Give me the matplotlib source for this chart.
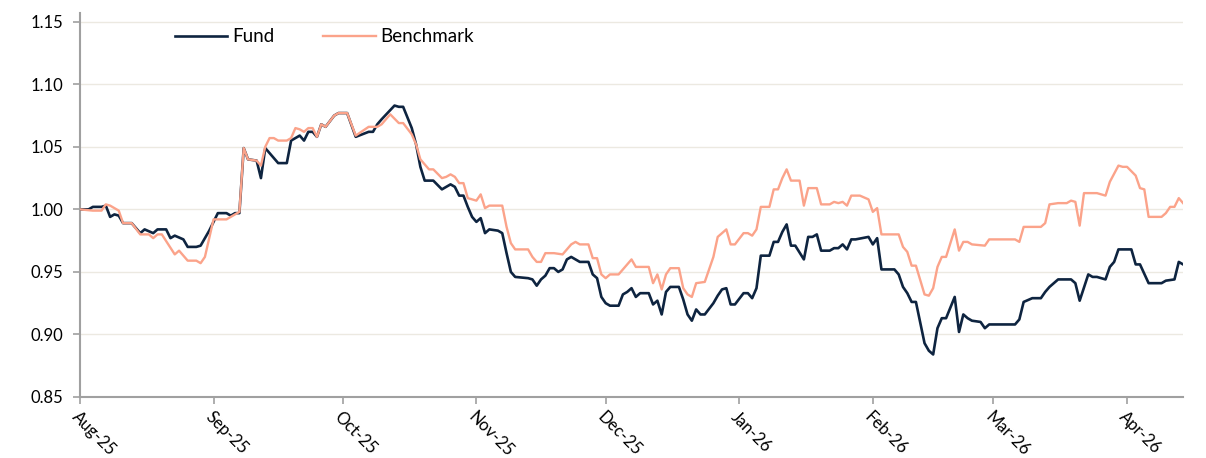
import pandas as pd
import matplotlib.pyplot as plt
import matplotlib.dates as mdates

plt.rcParams['font.family'] = ['Lato', 'DejaVu Sans']

fund_dates = [
    '2025-08-01', '2025-08-03', '2025-08-04', '2025-08-06', '2025-08-07', '2025-08-08', '2025-08-09',
    '2025-08-10', '2025-08-11', '2025-08-13', '2025-08-15', '2025-08-16', '2025-08-18', '2025-08-19',
    '2025-08-21', '2025-08-22', '2025-08-23', '2025-08-25', '2025-08-26', '2025-08-28', '2025-08-29',
    '2025-08-31', '2025-09-02', '2025-09-04', '2025-09-05', '2025-09-06', '2025-09-07', '2025-09-08',
    '2025-09-09', '2025-09-11', '2025-09-12', '2025-09-13', '2025-09-16', '2025-09-18', '2025-09-19',
    '2025-09-21', '2025-09-22', '2025-09-23', '2025-09-24', '2025-09-25', '2025-09-26', '2025-09-27',
    '2025-09-29', '2025-09-30', '2025-10-02', '2025-10-04', '2025-10-07', '2025-10-08', '2025-10-09',
    '2025-10-10', '2025-10-13', '2025-10-14', '2025-10-15', '2025-10-17', '2025-10-18', '2025-10-19',
    '2025-10-20', '2025-10-22', '2025-10-24', '2025-10-25', '2025-10-26', '2025-10-27', '2025-10-28',
    '2025-10-29', '2025-10-30', '2025-10-31', '2025-11-01', '2025-11-02', '2025-11-03', '2025-11-04',
    '2025-11-06', '2025-11-07', '2025-11-08', '2025-11-09', '2025-11-10', '2025-11-13', '2025-11-14',
    '2025-11-15', '2025-11-16', '2025-11-17', '2025-11-18', '2025-11-19', '2025-11-20', '2025-11-21',
    '2025-11-22', '2025-11-23', '2025-11-25', '2025-11-27', '2025-11-28', '2025-11-29', '2025-11-30',
    '2025-12-01', '2025-12-02', '2025-12-04', '2025-12-05', '2025-12-06', '2025-12-07', '2025-12-08',
    '2025-12-09', '2025-12-11', '2025-12-12', '2025-12-13', '2025-12-14', '2025-12-15', '2025-12-16',
    '2025-12-18', '2025-12-19', '2025-12-20', '2025-12-21', '2025-12-22', '2025-12-23', '2025-12-24',
    '2025-12-26', '2025-12-27', '2025-12-28', '2025-12-29', '2025-12-30', '2025-12-31', '2026-01-02',
    '2026-01-03', '2026-01-04', '2026-01-05', '2026-01-06', '2026-01-08', '2026-01-09', '2026-01-10',
    '2026-01-11', '2026-01-12', '2026-01-13', '2026-01-14', '2026-01-16', '2026-01-17', '2026-01-18',
    '2026-01-19', '2026-01-20', '2026-01-22', '2026-01-23', '2026-01-24', '2026-01-25', '2026-01-26',
    '2026-01-27', '2026-01-28', '2026-01-31', '2026-02-01', '2026-02-02', '2026-02-03', '2026-02-06',
    '2026-02-07', '2026-02-08', '2026-02-09', '2026-02-10', '2026-02-11', '2026-02-13', '2026-02-14',
    '2026-02-15', '2026-02-16', '2026-02-17', '2026-02-18', '2026-02-20', '2026-02-21', '2026-02-22',
    '2026-02-23', '2026-02-24', '2026-02-26', '2026-02-27', '2026-02-28', '2026-03-06', '2026-03-07',
    '2026-03-08', '2026-03-10', '2026-03-12', '2026-03-13', '2026-03-14', '2026-03-16', '2026-03-19',
    '2026-03-20', '2026-03-21', '2026-03-23', '2026-03-24', '2026-03-25', '2026-03-27', '2026-03-28',
    '2026-03-29', '2026-03-30', '2026-03-31', '2026-04-02', '2026-04-03', '2026-04-04', '2026-04-06',
    '2026-04-09', '2026-04-10', '2026-04-12', '2026-04-13', '2026-04-14',
]
fund_values = [
    1.000, 1.000, 1.002, 1.002, 1.003, 0.994, 0.996,
    0.995, 0.989, 0.989, 0.981, 0.984, 0.981, 0.984,
    0.984, 0.977, 0.979, 0.976, 0.970, 0.970, 0.971,
    0.983, 0.997, 0.997, 0.995, 0.997, 0.997, 1.049,
    1.040, 1.039, 1.025, 1.049, 1.037, 1.037, 1.055,
    1.059, 1.055, 1.062, 1.062, 1.058, 1.068, 1.066,
    1.075, 1.077, 1.077, 1.058, 1.062, 1.062, 1.068,
    1.072, 1.083, 1.082, 1.082, 1.065, 1.052, 1.034,
    1.023, 1.023, 1.016, 1.018, 1.020, 1.018, 1.011,
    1.011, 1.002, 0.994, 0.990, 0.993, 0.981, 0.984,
    0.983, 0.981, 0.965, 0.950, 0.946, 0.945, 0.944,
    0.939, 0.944, 0.947, 0.953, 0.953, 0.950, 0.952,
    0.960, 0.962, 0.958, 0.958, 0.948, 0.945, 0.930,
    0.925, 0.923, 0.923, 0.932, 0.934, 0.937, 0.930,
    0.933, 0.933, 0.924, 0.927, 0.916, 0.934, 0.938,
    0.938, 0.928, 0.916, 0.911, 0.920, 0.916, 0.916,
    0.925, 0.931, 0.936, 0.937, 0.924, 0.924, 0.933,
    0.933, 0.929, 0.937, 0.963, 0.963, 0.974, 0.974,
    0.982, 0.988, 0.971, 0.971, 0.960, 0.978, 0.978,
    0.980, 0.967, 0.967, 0.969, 0.969, 0.972, 0.968,
    0.976, 0.976, 0.978, 0.972, 0.977, 0.952, 0.952,
    0.948, 0.938, 0.933, 0.926, 0.926, 0.893, 0.887,
    0.884, 0.905, 0.913, 0.913, 0.930, 0.902, 0.916,
    0.913, 0.911, 0.910, 0.905, 0.908, 0.908, 0.912,
    0.926, 0.929, 0.929, 0.934, 0.938, 0.944, 0.944,
    0.941, 0.927, 0.948, 0.946, 0.946, 0.944, 0.954,
    0.958, 0.968, 0.968, 0.968, 0.956, 0.956, 0.941,
    0.941, 0.943, 0.944, 0.958, 0.956,
]

bench_dates = [
    '2025-08-01', '2025-08-04', '2025-08-06', '2025-08-07', '2025-08-08', '2025-08-10', '2025-08-11',
    '2025-08-13', '2025-08-15', '2025-08-17', '2025-08-18', '2025-08-19', '2025-08-20', '2025-08-23',
    '2025-08-24', '2025-08-26', '2025-08-28', '2025-08-29', '2025-08-30', '2025-09-01', '2025-09-04',
    '2025-09-05', '2025-09-07', '2025-09-08', '2025-09-09', '2025-09-11', '2025-09-12', '2025-09-13',
    '2025-09-14', '2025-09-15', '2025-09-16', '2025-09-18', '2025-09-19', '2025-09-20', '2025-09-21',
    '2025-09-22', '2025-09-23', '2025-09-24', '2025-09-25', '2025-09-26', '2025-09-27', '2025-09-29',
    '2025-09-30', '2025-10-02', '2025-10-04', '2025-10-07', '2025-10-09', '2025-10-10', '2025-10-12',
    '2025-10-14', '2025-10-15', '2025-10-17', '2025-10-18', '2025-10-19', '2025-10-21', '2025-10-22',
    '2025-10-24', '2025-10-25', '2025-10-26', '2025-10-27', '2025-10-28', '2025-10-29', '2025-10-30',
    '2025-11-01', '2025-11-02', '2025-11-03', '2025-11-04', '2025-11-07', '2025-11-08', '2025-11-09',
    '2025-11-10', '2025-11-13', '2025-11-14', '2025-11-15', '2025-11-16', '2025-11-17', '2025-11-19',
    '2025-11-21', '2025-11-23', '2025-11-24', '2025-11-25', '2025-11-27', '2025-11-28', '2025-11-29',
    '2025-11-30', '2025-12-01', '2025-12-02', '2025-12-04', '2025-12-05', '2025-12-07', '2025-12-08',
    '2025-12-11', '2025-12-12', '2025-12-13', '2025-12-14', '2025-12-15', '2025-12-16', '2025-12-18',
    '2025-12-19', '2025-12-20', '2025-12-21', '2025-12-22', '2025-12-24', '2025-12-26', '2025-12-27',
    '2025-12-29', '2025-12-30', '2025-12-31', '2026-01-02', '2026-01-03', '2026-01-04', '2026-01-05',
    '2026-01-06', '2026-01-08', '2026-01-09', '2026-01-10', '2026-01-11', '2026-01-12', '2026-01-13',
    '2026-01-15', '2026-01-16', '2026-01-17', '2026-01-19', '2026-01-20', '2026-01-22', '2026-01-23',
    '2026-01-24', '2026-01-25', '2026-01-26', '2026-01-27', '2026-01-29', '2026-01-31', '2026-02-01',
    '2026-02-02', '2026-02-03', '2026-02-07', '2026-02-08', '2026-02-09', '2026-02-10', '2026-02-11',
    '2026-02-13', '2026-02-14', '2026-02-15', '2026-02-16', '2026-02-17', '2026-02-18', '2026-02-20',
    '2026-02-21', '2026-02-22', '2026-02-23', '2026-02-24', '2026-02-27', '2026-02-28', '2026-03-06',
    '2026-03-07', '2026-03-08', '2026-03-12', '2026-03-13', '2026-03-14', '2026-03-16', '2026-03-18',
    '2026-03-19', '2026-03-20', '2026-03-21', '2026-03-22', '2026-03-25', '2026-03-27', '2026-03-28',
    '2026-03-30', '2026-03-31', '2026-04-01', '2026-04-03', '2026-04-04', '2026-04-05', '2026-04-06',
    '2026-04-09', '2026-04-10', '2026-04-11', '2026-04-12', '2026-04-13', '2026-04-14',
]
bench_values = [
    1.000, 0.999, 0.999, 1.004, 1.003, 0.999, 0.989,
    0.989, 0.980, 0.980, 0.977, 0.980, 0.980, 0.964,
    0.967, 0.959, 0.959, 0.957, 0.962, 0.992, 0.992,
    0.994, 0.998, 1.049, 1.040, 1.039, 1.035, 1.050,
    1.057, 1.057, 1.055, 1.055, 1.057, 1.065, 1.064,
    1.062, 1.065, 1.065, 1.058, 1.068, 1.066, 1.075,
    1.077, 1.077, 1.059, 1.066, 1.066, 1.068, 1.076,
    1.069, 1.069, 1.060, 1.052, 1.040, 1.032, 1.032,
    1.025, 1.026, 1.028, 1.026, 1.021, 1.021, 1.009,
    1.007, 1.012, 1.001, 1.003, 1.003, 0.986, 0.973,
    0.968, 0.968, 0.962, 0.958, 0.958, 0.965, 0.965,
    0.964, 0.972, 0.974, 0.972, 0.972, 0.961, 0.961,
    0.948, 0.945, 0.948, 0.948, 0.952, 0.960, 0.954,
    0.954, 0.941, 0.948, 0.936, 0.948, 0.953, 0.953,
    0.937, 0.932, 0.930, 0.941, 0.942, 0.962, 0.978,
    0.984, 0.972, 0.972, 0.981, 0.981, 0.979, 0.984,
    1.002, 1.002, 1.016, 1.016, 1.025, 1.032, 1.023,
    1.023, 1.003, 1.017, 1.017, 1.004, 1.004, 1.006,
    1.005, 1.006, 1.003, 1.011, 1.011, 1.008, 0.998,
    1.001, 0.980, 0.980, 0.970, 0.966, 0.955, 0.955,
    0.932, 0.931, 0.937, 0.954, 0.962, 0.962, 0.984,
    0.967, 0.974, 0.974, 0.972, 0.971, 0.976, 0.976,
    0.974, 0.986, 0.986, 0.989, 1.004, 1.005, 1.005,
    1.007, 1.006, 0.987, 1.013, 1.013, 1.011, 1.022,
    1.035, 1.034, 1.034, 1.027, 1.017, 1.016, 0.994,
    0.994, 0.997, 1.002, 1.002, 1.009, 1.005,
]

y_ticks = [0.85, 0.90, 0.95, 1.00, 1.05, 1.10, 1.15]

fund = pd.Series(fund_values, index=pd.to_datetime(fund_dates))
bench = pd.Series(bench_values, index=pd.to_datetime(bench_dates))

fig = plt.figure(figsize=(12.06, 4.58), dpi=100)
ax = fig.add_axes([0.0663, 0.1332, 0.9147, 0.8384])

ax.plot(fund.index, fund.values, color='#0e2440', lw=1.9, label='Fund', zorder=3)
ax.plot(bench.index, bench.values, color='#fba38a', lw=1.7, label='Benchmark', zorder=4)

ax.set_ylim(0.85, 1.157)
ax.set_xlim(pd.Timestamp('2025-08-01'), pd.Timestamp('2026-04-14'))
ax.set_yticks(y_ticks)
ax.yaxis.set_major_formatter(plt.FormatStrFormatter('%.2f'))
ax.grid(axis='y', color='#ece9e1', lw=1)
ax.set_axisbelow(True)

ax.xaxis.set_major_locator(mdates.MonthLocator())
ax.xaxis.set_major_formatter(mdates.DateFormatter('%b-%y'))

for s in ['top', 'right']:
    ax.spines[s].set_visible(False)
for s in ['left', 'bottom']:
    ax.spines[s].set_color('#a0a0a0')
    ax.spines[s].set_linewidth(1.5)

ax.tick_params(axis='both', colors='#a0a0a0', width=1.2, length=5, labelcolor='black', labelsize=12)
ax.tick_params(axis='y', pad=7)
for lbl in ax.get_xticklabels():
    lbl.set_rotation(-45)
    lbl.set_ha('left')
    lbl.set_va('top')
    lbl.set_rotation_mode('anchor')

ax.legend(loc='center left', bbox_to_anchor=(0.086, 0.938), ncol=2, frameon=False,
          borderpad=0, borderaxespad=0, handlelength=2.8, handletextpad=0.25,
          columnspacing=2.6, fontsize=13.5)

fig.savefig('out.png', dpi=100)
